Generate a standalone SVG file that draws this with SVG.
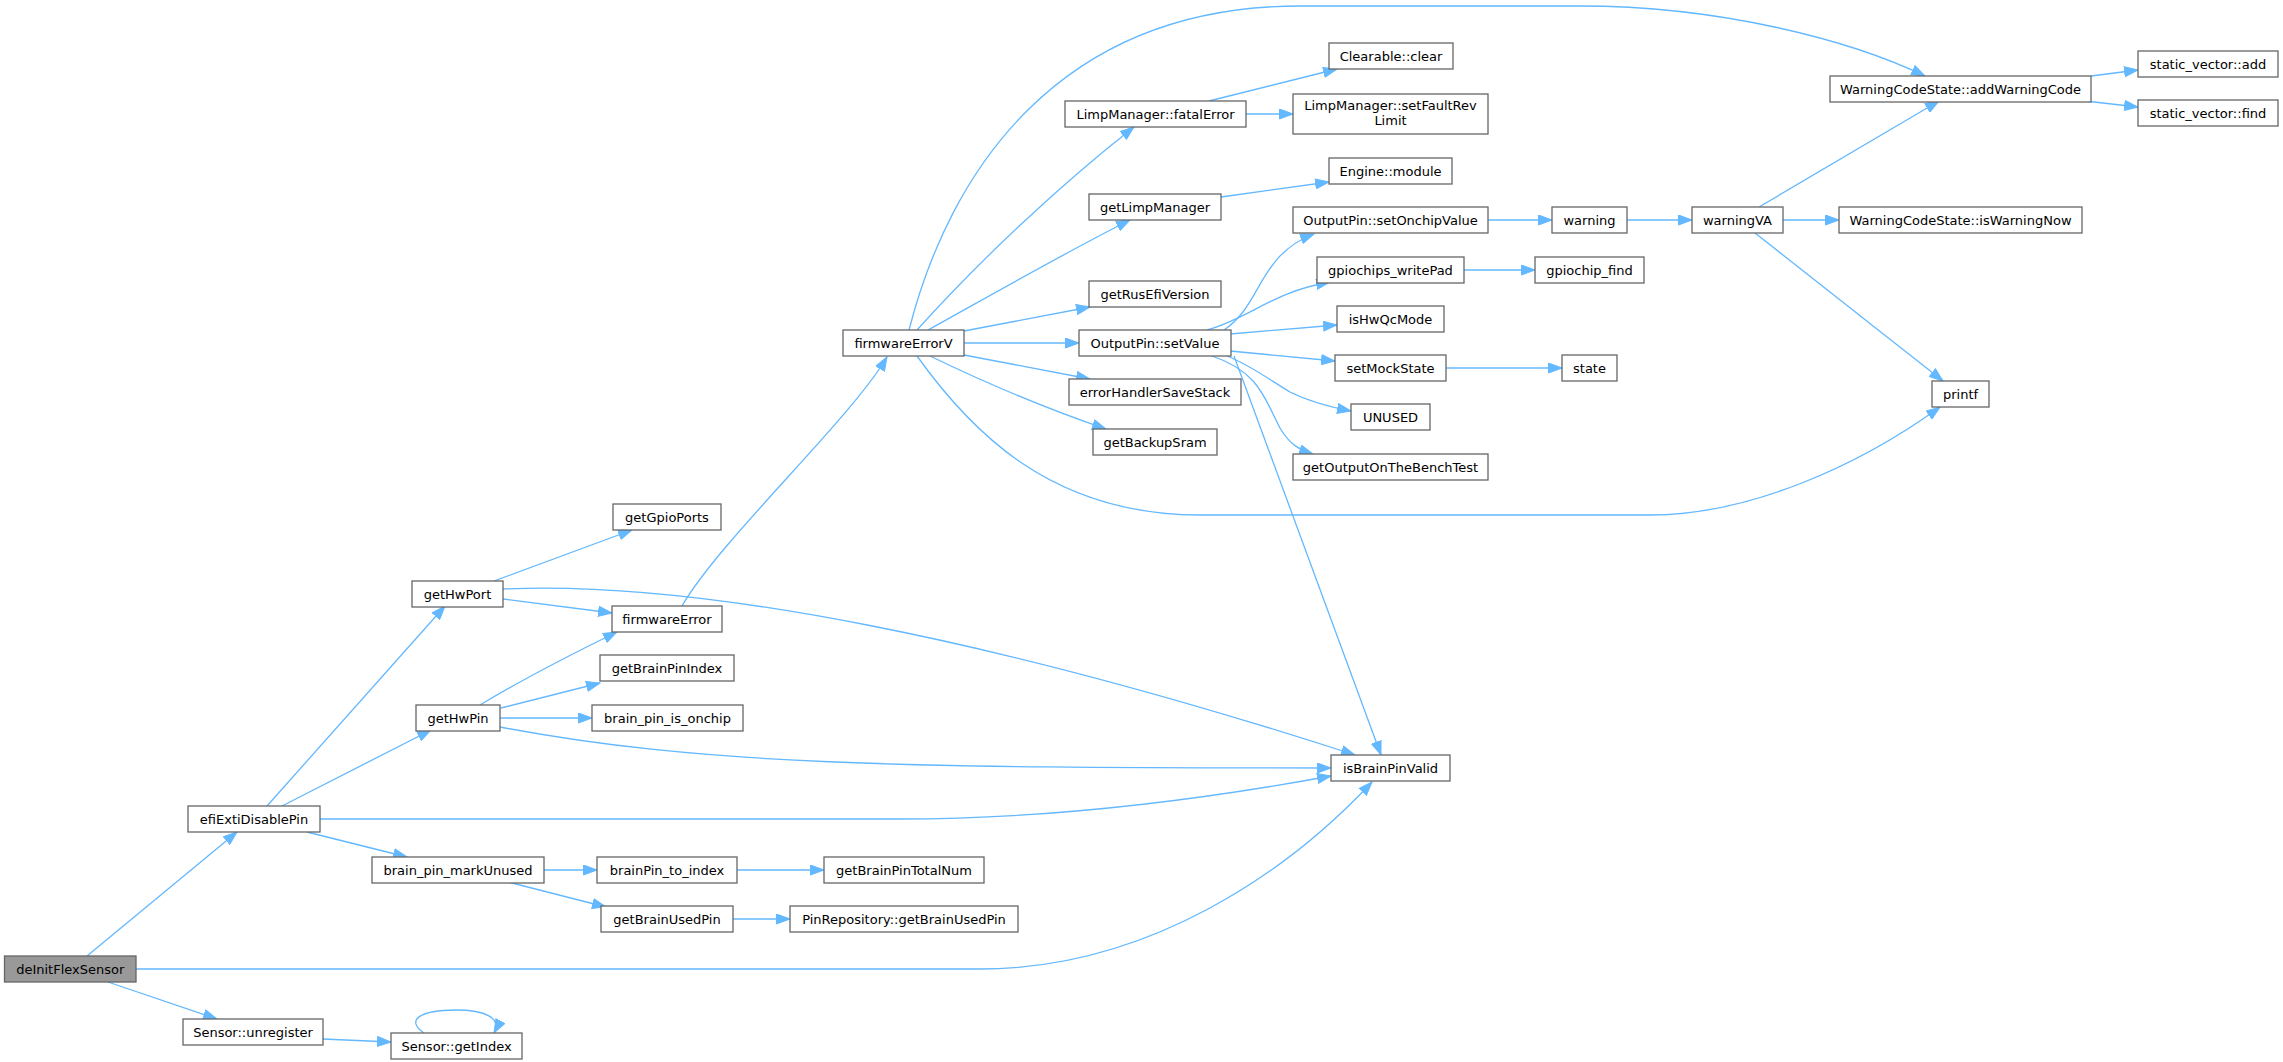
<svg xmlns="http://www.w3.org/2000/svg" width="2283" height="1062" viewBox="0 0 2283 1062">
<style>
.n rect{fill:#ffffff;stroke:#666666;stroke-width:1.3}
.n text{font-family:"DejaVu Sans",sans-serif;font-size:13px;fill:#000000;text-anchor:middle}
#edges path{fill:none;stroke:#63b8ff;stroke-width:1.3;marker-end:url(#ah)}
</style>
<defs>
<marker id="ah" markerUnits="userSpaceOnUse" markerWidth="15" markerHeight="11" refX="14" refY="5.5" orient="auto" viewBox="0 0 15 11">
<path d="M0.5,0.5 L14,5.5 L0.5,10.5 z" fill="#63b8ff" stroke="#63b8ff" stroke-width="1"/>
</marker>
</defs>
<rect width="2283" height="1062" fill="#ffffff"/>
<g id="edges">
<path d="M87,956 L237,832"/>
<path d="M136,969 L980,969 C1150,969 1290,870 1372,782"/>
<path d="M108,982 L217,1019"/>
<path d="M267,806 L445,606"/>
<path d="M282,806 L431,730"/>
<path d="M320,819 L900,819 C1050,819 1200,800 1331,776"/>
<path d="M307,832 L407,857"/>
<path d="M494,581 L632,530"/>
<path d="M503,599 L612,613"/>
<path d="M503,589 C700,580 1000,640 1355,755"/>
<path d="M480,705 C530,675 580,650 617,632"/>
<path d="M501,708 L600,683"/>
<path d="M500,718 L592,718"/>
<path d="M500,727 C700,765 900,768 1331,768"/>
<path d="M544,870 L597,870"/>
<path d="M508,882 L606,907"/>
<path d="M737,870 L824,870"/>
<path d="M733,919 L790,919"/>
<path d="M323,1039 L391,1042"/>
<path d="M424,1033 C405,1020 420,1010 456,1010 C485,1010 502,1018 494,1033"/>
<path d="M682,606 C720,540 850,420 887,357"/>
<path d="M909,330 C950,170 1060,6 1300,6 L1580,6 C1720,6 1850,40 1925,76"/>
<path d="M917,330 C980,260 1060,185 1134,127"/>
<path d="M928,330 C1000,290 1070,250 1130,220"/>
<path d="M964,331 L1090,307"/>
<path d="M964,343 L1079,343"/>
<path d="M964,355 L1090,379"/>
<path d="M930,356 C990,385 1050,410 1106,429"/>
<path d="M917,356 C970,430 1050,515 1200,515 L1650,515 C1750,515 1860,465 1940,407"/>
<path d="M1209,101 L1337,69"/>
<path d="M1246,114 L1293,114"/>
<path d="M1221,197 L1329,182"/>
<path d="M1224,330 C1262,305 1258,255 1314,234"/>
<path d="M1207,330 C1250,318 1272,292 1330,282"/>
<path d="M1230,334 L1337,325"/>
<path d="M1230,351 L1335,361"/>
<path d="M1227,356 C1250,365 1270,380 1290,392 C1310,402 1330,407 1351,411"/>
<path d="M1212,356 C1260,372 1265,400 1280,428 C1290,445 1300,450 1313,454"/>
<path d="M1234,356 L1381,755"/>
<path d="M1488,220 L1552,220"/>
<path d="M1464,270 L1535,270"/>
<path d="M1446,368 L1562,368"/>
<path d="M1627,220 L1692,220"/>
<path d="M1759,207 L1939,101"/>
<path d="M1783,220 L1839,220"/>
<path d="M1755,233 L1943,381"/>
<path d="M2091,76 L2138,70"/>
<path d="M2085,101 L2138,107"/>
</g>
<g id="node_deInitFlexSensor" class="n"><rect x="4.5" y="956" width="131.5" height="26" style="fill:#999999"/><text x="70.25" y="973.5">deInitFlexSensor</text></g>
<g id="node_efiExtiDisablePin" class="n"><rect x="188" y="806" width="132" height="26"/><text x="254" y="823.5">efiExtiDisablePin</text></g>
<g id="node_Sensor_unregister" class="n"><rect x="183" y="1019" width="140" height="26"/><text x="253" y="1036.5">Sensor::unregister</text></g>
<g id="node_getHwPort" class="n"><rect x="412" y="581" width="91" height="26"/><text x="457.5" y="598.5">getHwPort</text></g>
<g id="node_getHwPin" class="n"><rect x="416" y="705" width="84" height="26"/><text x="458" y="722.5">getHwPin</text></g>
<g id="node_brain_pin_markUnused" class="n"><rect x="372" y="857" width="172" height="26"/><text x="458" y="874.5">brain_pin_markUnused</text></g>
<g id="node_Sensor_getIndex" class="n"><rect x="391" y="1033" width="131" height="26"/><text x="456.5" y="1050.5">Sensor::getIndex</text></g>
<g id="node_getGpioPorts" class="n"><rect x="613" y="504" width="108" height="26"/><text x="667" y="521.5">getGpioPorts</text></g>
<g id="node_firmwareError" class="n"><rect x="612" y="606" width="110" height="26"/><text x="667" y="623.5">firmwareError</text></g>
<g id="node_getBrainPinIndex" class="n"><rect x="600" y="655" width="134" height="26"/><text x="667" y="672.5">getBrainPinIndex</text></g>
<g id="node_brain_pin_is_onchip" class="n"><rect x="592" y="705" width="151" height="26"/><text x="667.5" y="722.5">brain_pin_is_onchip</text></g>
<g id="node_brainPin_to_index" class="n"><rect x="597" y="857" width="140" height="26"/><text x="667" y="874.5">brainPin_to_index</text></g>
<g id="node_getBrainUsedPin" class="n"><rect x="601" y="906" width="132" height="26"/><text x="667" y="923.5">getBrainUsedPin</text></g>
<g id="node_firmwareErrorV" class="n"><rect x="843" y="330" width="121" height="26"/><text x="903.5" y="347.5">firmwareErrorV</text></g>
<g id="node_getBrainPinTotalNum" class="n"><rect x="824" y="857" width="160" height="26"/><text x="904" y="874.5">getBrainPinTotalNum</text></g>
<g id="node_PinRepository_getBrainUsedPin" class="n"><rect x="790" y="906" width="228" height="26"/><text x="904" y="923.5">PinRepository::getBrainUsedPin</text></g>
<g id="node_LimpManager_fatalError" class="n"><rect x="1065" y="101" width="181" height="26"/><text x="1155.5" y="118.5">LimpManager::fatalError</text></g>
<g id="node_getLimpManager" class="n"><rect x="1089" y="194" width="132" height="26"/><text x="1155" y="211.5">getLimpManager</text></g>
<g id="node_getRusEfiVersion" class="n"><rect x="1089" y="281" width="132" height="26"/><text x="1155" y="298.5">getRusEfiVersion</text></g>
<g id="node_OutputPin_setValue" class="n"><rect x="1079" y="330" width="152" height="26"/><text x="1155" y="347.5">OutputPin::setValue</text></g>
<g id="node_errorHandlerSaveStack" class="n"><rect x="1069" y="379" width="172" height="26"/><text x="1155" y="396.5">errorHandlerSaveStack</text></g>
<g id="node_getBackupSram" class="n"><rect x="1093" y="429" width="124" height="26"/><text x="1155" y="446.5">getBackupSram</text></g>
<g id="node_Clearable_clear" class="n"><rect x="1329" y="43" width="124" height="26"/><text x="1391" y="60.5">Clearable::clear</text></g>
<g id="node_LimpManager_setFaultRevLimit" class="n"><rect x="1293" y="94" width="195" height="40"/><text x="1390.5" y="110">LimpManager::setFaultRev</text><text x="1390.5" y="124.5">Limit</text></g>
<g id="node_Engine_module" class="n"><rect x="1329" y="158" width="123" height="26"/><text x="1390.5" y="175.5">Engine::module</text></g>
<g id="node_OutputPin_setOnchipValue" class="n"><rect x="1293" y="207" width="195" height="26"/><text x="1390.5" y="224.5">OutputPin::setOnchipValue</text></g>
<g id="node_gpiochips_writePad" class="n"><rect x="1317" y="257" width="147" height="26"/><text x="1390.5" y="274.5">gpiochips_writePad</text></g>
<g id="node_isHwQcMode" class="n"><rect x="1337" y="306" width="107" height="26"/><text x="1390.5" y="323.5">isHwQcMode</text></g>
<g id="node_setMockState" class="n"><rect x="1335" y="355" width="111" height="26"/><text x="1390.5" y="372.5">setMockState</text></g>
<g id="node_UNUSED" class="n"><rect x="1351" y="404" width="79" height="26"/><text x="1390.5" y="421.5">UNUSED</text></g>
<g id="node_getOutputOnTheBenchTest" class="n"><rect x="1293" y="454" width="195" height="26"/><text x="1390.5" y="471.5">getOutputOnTheBenchTest</text></g>
<g id="node_isBrainPinValid" class="n"><rect x="1331" y="755" width="119" height="26"/><text x="1390.5" y="772.5">isBrainPinValid</text></g>
<g id="node_warning" class="n"><rect x="1552" y="207" width="75" height="26"/><text x="1589.5" y="224.5">warning</text></g>
<g id="node_gpiochip_find" class="n"><rect x="1535" y="257" width="109" height="26"/><text x="1589.5" y="274.5">gpiochip_find</text></g>
<g id="node_state" class="n"><rect x="1562" y="355" width="55" height="26"/><text x="1589.5" y="372.5">state</text></g>
<g id="node_warningVA" class="n"><rect x="1692" y="207" width="91" height="26"/><text x="1737.5" y="224.5">warningVA</text></g>
<g id="node_printf" class="n"><rect x="1932" y="381" width="57" height="26"/><text x="1960.5" y="398.5">printf</text></g>
<g id="node_WarningCodeState_addWarningCode" class="n"><rect x="1830" y="76" width="261" height="26"/><text x="1960.5" y="93.5">WarningCodeState::addWarningCode</text></g>
<g id="node_WarningCodeState_isWarningNow" class="n"><rect x="1839" y="207" width="243" height="26"/><text x="1960.5" y="224.5">WarningCodeState::isWarningNow</text></g>
<g id="node_static_vector_add" class="n"><rect x="2138" y="51" width="140" height="26"/><text x="2208" y="68.5">static_vector::add</text></g>
<g id="node_static_vector_find" class="n"><rect x="2138" y="100" width="140" height="26"/><text x="2208" y="117.5">static_vector::find</text></g>
</svg>
